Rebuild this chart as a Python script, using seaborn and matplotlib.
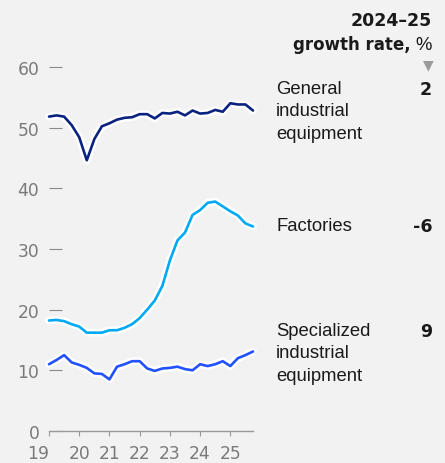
import numpy as np
import pandas as pd
import matplotlib
matplotlib.use("Agg")
import matplotlib.pyplot as plt
import matplotlib.patheffects as pe
import seaborn as sns

# ---- data ----
quarters = pd.period_range("2019Q1", periods=28, freq="Q")
general = [51.8, 52.0, 51.8, 50.4, 48.4, 44.6, 48.1, 50.2, 50.7, 51.3, 51.6, 51.7,
           52.2, 52.2, 51.5, 52.4, 52.3, 52.6, 52.0, 52.8, 52.3, 52.4, 52.9, 52.6,
           54.0, 53.8, 53.8, 52.8]
factories = [18.2, 18.3, 18.1, 17.6, 17.2, 16.2, 16.2, 16.2, 16.6, 16.6, 17.0, 17.6,
             18.6, 20.0, 21.5, 23.9, 28.1, 31.4, 32.7, 35.6, 36.4, 37.6, 37.8, 37.0,
             36.2, 35.5, 34.2, 33.7]
specialized = [11.0, 11.7, 12.5, 11.3, 10.9, 10.4, 9.5, 9.4, 8.5, 10.6, 11.0, 11.5,
               11.5, 10.3, 9.9, 10.3, 10.4, 10.6, 10.2, 10.0, 11.0, 10.7, 11.0, 11.5,
               10.7, 12.0, 12.5, 13.1]
series_names = ["General industrial equipment", "Factories", "Specialized industrial equipment"]
label_lines = ["General\nindustrial\nequipment", "Factories", "Specialized\nindustrial\nequipment"]
growth = ["2", "-6", "9"]
colors = ["#0b2380", "#00a9f4", "#2251ff"]
year_ticks = [2019, 2020, 2021, 2022, 2023, 2024, 2025]
year_labels = ["19", "20", "21", "22", "23", "24", "25"]
y_ticks = [0, 10, 20, 30, 40, 50, 60]

xnum = [q.year + (q.quarter - 1) / 4 for q in quarters]
df = pd.concat([
    pd.DataFrame({"x": xnum, "value": vals, "series": name})
    for name, vals in zip(series_names, [general, factories, specialized])
])

# ---- figure ----
W, H = 445, 464
BG = "#f2f2f2"
GRAY = "#7a7a7a"
DARK = "#1a1a1a"
sns.set_theme(style="white")
plt.rcParams["font.family"] = ["Liberation Sans", "DejaVu Sans"]

fig = plt.figure(figsize=(W / 100, H / 100), dpi=100, facecolor=BG)
ax = fig.add_axes([49 / W, 1 - 432 / H, (253 - 49) / W, (432 - 55.7) / H])
ax.set_facecolor(BG)

sns.lineplot(data=df, x="x", y="value", hue="series", hue_order=series_names,
             palette=colors, linewidth=1.9, ax=ax, legend=False)
for ln in ax.lines:
    ln.set_clip_on(False)
    ln.set_path_effects([pe.Stroke(linewidth=5.5, foreground="white"), pe.Normal()])

ax.set_xlim(2019, 2025.75)
ax.set_ylim(0, 62)
ax.set_xlabel("")
ax.set_ylabel("")
for s in ["top", "right", "left"]:
    ax.spines[s].set_visible(False)
ax.spines["bottom"].set_color("#9a9a9a")
ax.spines["bottom"].set_linewidth(1.0)

ax.set_xticks(year_ticks)
ax.set_xticklabels(year_labels)
ax.set_yticks(y_ticks)
ax.set_yticklabels([str(v) for v in y_ticks])
ax.tick_params(axis="y", direction="in", length=9, width=0.8, color="#8a8a8a",
               labelcolor=GRAY, labelsize=12.3, pad=7, left=True)
ax.tick_params(axis="x", direction="out", length=3.5, width=0.8, color="#9a9a9a",
               labelcolor=GRAY, labelsize=12.3, pad=6, bottom=True)
for t in ax.get_xticklabels() + ax.get_yticklabels():
    t.set_family(["DejaVu Sans"])
ax.get_xticklabels()[0].set_horizontalalignment("right")

def ftext(x, y, s, **kw):
    return fig.text(x / W, 1 - y / H, s, va="center", **kw)

BOLD = dict(fontsize=12.5, fontweight="bold", color=DARK, family=["DejaVu Sans"])

# header
ftext(432, 21, "2024\u201325", ha="right", **BOLD)
pct = ftext(432, 45, "%", ha="right", fontsize=13.3, color=DARK)
fig.canvas.draw()
bb = pct.get_window_extent(renderer=fig.canvas.get_renderer())
ftext(bb.x0 - 5, 45, "growth rate,", ha="right", fontsize=12, fontweight="bold",
      color=DARK, family=["DejaVu Sans"])
ftext(428, 65, "\u25BC", ha="center", fontsize=10, color="#9a9a9a", family=["DejaVu Sans"])

# series labels
label_y = [90, 227, 332]
for lab, g, y in zip(label_lines, growth, label_y):
    fig.text(276 / W, 1 - (y - 9) / H, lab, ha="left", va="top", fontsize=13.3,
             color=DARK, linespacing=1.42)
    ftext(432, y, g, ha="right", **BOLD)

fig.savefig("out.png", dpi=100, facecolor=BG)
